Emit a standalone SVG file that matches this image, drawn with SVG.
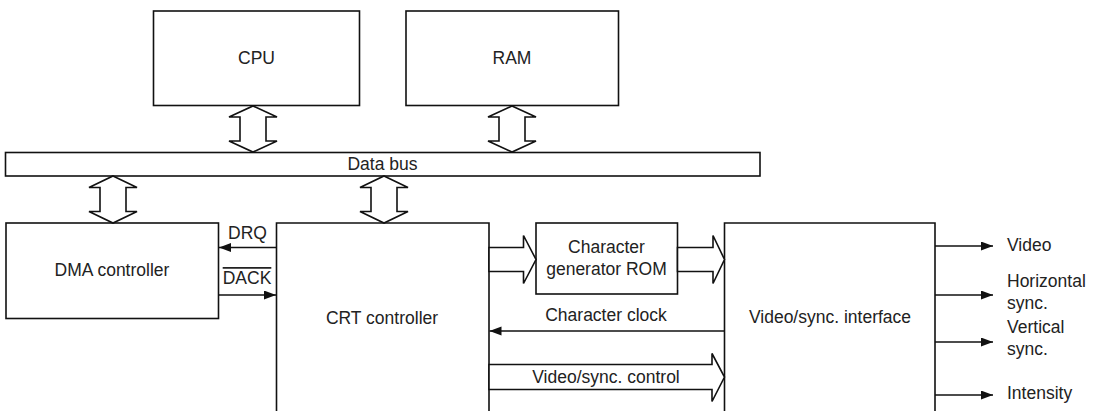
<svg xmlns="http://www.w3.org/2000/svg" width="1096" height="411" viewBox="0 0 1096 411">
<style>
  .box { fill: #fff; stroke: #111; stroke-width: 1.6; }
  .blk { fill: #fff; stroke: #111; stroke-width: 1.6; stroke-linejoin: miter; }
  .ln { fill: none; stroke: #111; stroke-width: 1.6; }
  text { font-family: "Liberation Sans", Arial, sans-serif; font-size: 17.5px; fill: #222; }
  .c { text-anchor: middle; }
</style>
<defs>
  <marker id="ah" markerUnits="userSpaceOnUse" markerWidth="13" markerHeight="10" refX="12" refY="4.5" orient="auto">
    <path d="M0,0 L12,4.5 L0,9 z" fill="#111"/>
  </marker>
</defs>
<rect width="1096" height="411" fill="#fff"/>

<g id="cpu">
  <rect class="box" x="153.5" y="11" width="206" height="94.5"/>
  <text class="c" x="256.5" y="64">CPU</text>
</g>
<g id="ram">
  <rect class="box" x="406" y="11" width="212.5" height="94.5"/>
  <text class="c" x="512" y="64">RAM</text>
</g>
<g id="databus">
  <rect class="box" x="5.5" y="152.5" width="754.5" height="23.5"/>
  <text class="c" x="382.5" y="170">Data bus</text>
</g>
<g id="dma">
  <rect class="box" x="6" y="223" width="212.5" height="95.5"/>
  <text class="c" x="112" y="276">DMA controller</text>
</g>
<g id="crt">
  <path class="box" d="M276.5,415 V223 H489 V415"/>
  <text class="c" x="382" y="324">CRT controller</text>
</g>
<g id="chargen">
  <rect class="box" x="536" y="223" width="141.5" height="71"/>
  <text class="c" x="606.5" y="253">Character</text>
  <text class="c" x="606.5" y="275">generator ROM</text>
</g>
<g id="vsi">
  <path class="box" d="M724.5,415 V223 H935 V415"/>
  <text class="c" x="830" y="323">Video/sync. interface</text>
</g>

<g id="connectors">
  <!-- bus block arrows -->
  <polygon class="blk" points="253,106 277,117 266,117 266,141 277,141 253,152 229,141 240,141 240,117 229,117"/>
  <polygon class="blk" points="512,106 536,117 525,117 525,141 536,141 512,152 488,141 499,141 499,117 488,117"/>
  <polygon class="blk" points="113,176 137,187.5 126,187.5 126,211.5 137,211.5 113,223 89,211.5 100,211.5 100,187.5 89,187.5"/>
  <polygon class="blk" points="384,176 408,187.5 397,187.5 397,211.5 408,211.5 384,223 360,211.5 371,211.5 371,187.5 360,187.5"/>
  <!-- CRT -> char gen -->
  <polygon class="blk" points="489,247.5 523.5,247.5 523.5,235.5 536,259.5 523.5,283.5 523.5,271.5 489,271.5"/>
  <!-- char gen -> VSI -->
  <polygon class="blk" points="677.5,247.5 713,247.5 713,235.5 724.5,259.5 713,283.5 713,271.5 677.5,271.5"/>
  <!-- video/sync control -->
  <polygon class="blk" points="489,364.5 712,364.5 712,353.5 724.5,377 712,401.5 712,389.5 489,389.5"/>
  <text class="c" x="606" y="383">Video/sync. control</text>
  <!-- DRQ / DACK -->
  <line class="ln" x1="276.5" y1="247.5" x2="219" y2="247.5" marker-end="url(#ah)"/>
  <text class="c" x="247.5" y="239">DRQ</text>
  <line class="ln" x1="218.5" y1="295" x2="276" y2="295" marker-end="url(#ah)"/>
  <text class="c" x="247" y="284" text-decoration="overline">DACK</text>
  <!-- character clock -->
  <line class="ln" x1="724.5" y1="331" x2="489.5" y2="331" marker-end="url(#ah)"/>
  <text class="c" x="606" y="321">Character clock</text>
  <!-- outputs -->
  <line class="ln" x1="935" y1="246" x2="993" y2="246" marker-end="url(#ah)"/>
  <line class="ln" x1="935" y1="295" x2="993" y2="295" marker-end="url(#ah)"/>
  <line class="ln" x1="935" y1="342" x2="993" y2="342" marker-end="url(#ah)"/>
  <line class="ln" x1="935" y1="395" x2="993" y2="395" marker-end="url(#ah)"/>
  <text x="1007" y="251">Video</text>
  <text x="1007" y="287">Horizontal</text>
  <text x="1007" y="309">sync.</text>
  <text x="1007" y="333">Vertical</text>
  <text x="1007" y="355">sync.</text>
  <text x="1007" y="399">Intensity</text>
</g>
</svg>
